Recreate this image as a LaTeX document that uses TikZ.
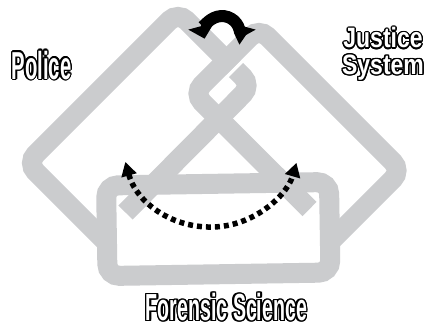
\documentclass[tikz,border=0pt]{standalone}
\usepackage{fontspec}
\newfontfamily\lblfont{Liberation Sans}
\usetikzlibrary{arrows.meta}
\definecolor{loopgray}{RGB}{203,204,206}
\newcommand\lbltxt[3]{{\fontsize{#1}{#1}\selectfont\scalebox{#2}[1]{#3}}}
\begin{document}
\begin{tikzpicture}[x=1pt,y=1pt,
  band/.style={draw=loopgray, line width=20pt, line cap=butt, rounded corners=12pt},
  cutgap/.style={draw=white, line width=3.5pt},
  blackarc/.style={draw=black, line width=12pt, >={Triangle[width=26pt,length=13pt]}, <->},
  dotarc/.style={draw=black, line width=5.5pt, dash pattern=on 5pt off 4pt, >={Triangle[width=15pt,length=14pt]}, <->},
  lbl/.style={font=\lblfont\bfseries, inner sep=0pt, anchor=base},
]
\useasboundingbox (0,0) rectangle (427,330);
\fill[white] (0,0) rectangle (427,330);

% Police loop
\coordinate (pEnd) at (125.5,117.5);
\coordinate (pR) at (251.5,244.5);
\coordinate (pT) at (178,318);
\coordinate (pL) at (27,167);
\coordinate (pE2) at (108,86);
\draw[band] (pEnd) -- (pR) -- (pT) -- (pL) -- (pE2);

% gap where Police passes under Justice
\coordinate (g1) at (225.75,252.25);
\coordinate (g2) at (243.75,270.25);
\draw[cutgap] (g1) -- (g2);

% Justice loop
\coordinate (jEnd) at (309.5,121);
\coordinate (jL) at (193.5,236.5);
\coordinate (jT) at (259,302);
\coordinate (jR) at (401.5,159.5);
\coordinate (jE2) at (331,89);
\draw[band] (jEnd) -- (jL) -- (jT) -- (jR) -- (jE2);

% Forensic Science loop
\coordinate (fA) at (107.5,54);
\coordinate (fB) at (329,148);
\draw[band, rotate around={0.9:(218.25,100.5)}] (fA) rectangle (fB);

% curved double arrow at top
\coordinate (ca) at (204.6,291.3);
\draw[blackarc] (ca) arc[start angle=195, end angle=-15, radius=18pt];

% dotted double arrow
\coordinate (da) at (125.3,168.1);
\draw[dotarc] (da) arc[start angle=195.6, end angle=343.8, radius=89pt];

% labels: black contour copies, then white letters
\foreach \i in {1,...,16} {
  \node[lbl, text=black, shift={(\i*22.5:1.4pt)}] (polO\i) at (41.5,251) {\lbltxt{39pt}{0.52}{Police}};
  \node[lbl, text=black, shift={(\i*22.5:1.4pt)}] (jusO\i) at (383,282) {\lbltxt{28pt}{0.82}{Justice}};
  \node[lbl, text=black, shift={(\i*22.5:1.4pt)}] (sysO\i) at (383,255.5) {\lbltxt{28pt}{0.82}{System}};
  \node[lbl, text=black, shift={(\i*22.5:1.4pt)}] (forO\i) at (226.5,9.5) {\lbltxt{37.7pt}{0.52}{Forensic Science}};
}
\node[lbl, text=white] (police) at (41.5,251) {\lbltxt{39pt}{0.52}{Police}};
\node[lbl, text=white] (justice) at (383,282) {\lbltxt{28pt}{0.82}{Justice}};
\node[lbl, text=white] (system) at (383,255.5) {\lbltxt{28pt}{0.82}{System}};
\node[lbl, text=white] (forensic) at (226.5,9.5) {\lbltxt{37.7pt}{0.52}{Forensic Science}};
\end{tikzpicture}
\end{document}
